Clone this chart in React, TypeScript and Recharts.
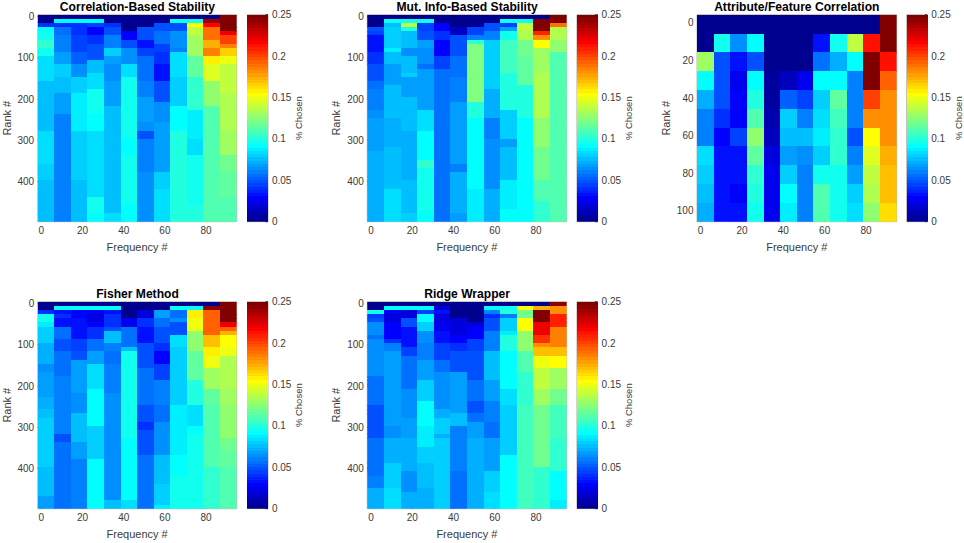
import React from 'react';
import { ScatterChart, Scatter, XAxis, YAxis, ReferenceArea } from 'recharts';

// Every column is a list of pairs: row where the run ends (exclusive), then % chosen x 1000.
const correlationColumns = [
  [2,0,3,40,4,90,6,97,8,105,10,95,16,85,28,75,36,84,40,80,50,75],
  [1,0,2,90,3,40,5,55,9,60,12,70,15,80,19,75,24,70,50,62],
  [1,0,2,90,5,40,9,45,12,52,15,65,19,80,28,88,40,80,46,75,50,78],
  [1,0,2,90,3,45,5,30,7,40,11,50,14,75,18,85,24,95,28,90,44,85,48,95,50,90],
  [2,0,3,40,5,50,8,60,10,80,12,70,16,65,22,70,48,75,50,85],
  [4,0,6,30,8,50,12,65,15,85,30,95,34,90,46,95,50,90],
  [3,0,6,50,8,35,10,45,16,55,20,60,26,70,28,65,30,50,38,60,50,65],
  [2,0,4,50,7,55,9,45,12,40,16,35,21,50,26,65,38,70,42,80,50,85],
  [1,0,2,95,4,50,8,65,9,60,15,85,22,80,28,93,50,100],
  [1,0,2,95,3,155,5,140,10,130,15,115,23,105,30,88,34,85,46,95,50,100],
  [1,0,2,240,3,215,6,190,8,175,10,185,12,160,16,145,22,125,50,110],
  [4,250,5,220,7,200,8,185,10,165,12,150,19,140,28,135,34,130,38,120,44,115,50,110],
];
const mutualInfoColumns = [
  [3,0,4,50,5,45,9,35,12,40,16,50,18,55,23,60,25,66,33,68,50,74],
  [1,0,2,95,3,75,8,82,9,88,12,75,17,70,25,76,32,72,42,78,50,84],
  [1,0,2,95,3,140,4,100,8,75,10,65,14,78,15,82,20,70,28,76,40,72,48,76,50,82],
  [1,0,2,95,4,45,6,50,8,70,12,65,13,55,23,70,28,85,35,92,37,105,48,96,50,92],
  [2,0,4,30,6,40,10,30,13,45,36,55,42,55,50,55],
  [3,0,5,15,10,50,15,55,21,60,36,68,38,60,48,72,50,68],
  [3,0,5,45,6,60,7,105,21,122,25,100,42,92,50,86],
  [2,0,4,50,6,60,16,82,18,82,25,72,30,62,42,66,50,72],
  [1,0,2,95,3,45,4,70,6,95,14,108,23,100,30,82,32,68,40,76,47,86,50,92],
  [1,0,2,95,4,140,6,135,10,120,17,115,25,100,50,93],
  [1,0,4,250,5,210,6,180,8,155,14,132,25,135,32,125,40,120,45,110,50,105],
  [2,250,3,190,6,135,9,125,16,110,50,110],
];
const attributeColumns = [
  [1,0,2,0,3,130,4,90,5,72,6,60,7,60,8,85,9,80,10,78,11,72],
  [1,0,2,95,3,50,4,50,5,50,6,42,7,30,8,35,9,35,10,35,11,35],
  [1,0,2,65,3,35,4,25,5,28,6,28,7,45,8,35,9,35,10,30,11,35],
  [1,0,2,90,3,50,4,90,5,98,6,110,7,125,8,115,9,105,10,98,11,95],
  [1,0,2,0,3,0,4,5,5,5,6,8,7,15,8,20,9,27,10,27,11,27],
  [1,0,2,0,3,0,4,15,5,52,6,80,7,75,8,70,9,80,10,92,11,88],
  [1,0,2,0,3,0,4,25,5,45,6,60,7,75,8,65,9,60,10,60,11,60],
  [1,0,2,35,3,55,4,90,5,80,6,85,7,88,8,80,9,95,10,110,11,112],
  [1,0,2,95,3,72,4,90,5,115,6,108,7,105,8,105,9,95,10,97,11,95],
  [1,0,2,140,3,92,4,60,5,60,6,60,7,50,8,60,9,70,10,80,11,85],
  [1,0,2,212,3,250,4,250,5,200,6,180,7,155,8,145,9,140,10,135,11,125],
  [1,250,2,250,3,212,4,192,5,180,6,180,7,180,8,172,9,168,10,168,11,162],
];
const fisherColumns = [
  [2,0,3,40,5,95,6,88,10,80,15,72,17,65,23,68,26,72,28,75,40,80,47,75,50,70],
  [1,0,2,90,3,35,4,40,6,35,9,55,12,50,18,55,25,60,32,60,34,50,50,58],
  [1,0,2,90,3,30,4,30,9,35,12,45,14,50,22,70,27,65,34,75,38,70,50,60],
  [1,0,2,90,3,30,5,20,6,30,9,40,12,55,15,70,21,85,30,92,38,80,50,90],
  [1,0,2,90,3,35,6,40,7,50,10,75,12,60,15,55,22,60,48,65,50,75],
  [4,0,6,25,11,55,12,75,25,95,33,95,48,90,50,85],
  [2,0,4,20,6,40,10,35,16,50,25,55,29,50,31,42,37,50,50,58],
  [2,0,4,70,6,55,10,50,12,40,15,30,19,45,25,60,29,55,37,65,44,75,49,80,50,88],
  [1,0,2,90,4,55,5,65,8,50,11,85,25,80,37,88,42,92,50,97],
  [1,0,2,90,4,160,7,150,12,125,19,115,25,100,30,85,32,90,50,95],
  [1,0,2,245,8,195,11,170,13,160,16,150,21,130,25,115,40,110,50,105],
  [5,250,6,220,7,195,8,175,11,155,13,150,21,135,25,130,33,125,36,120,40,115,50,110],
];
const ridgeColumns = [
  [2,0,3,95,4,45,5,50,8,65,9,55,18,65,25,55,33,50,37,55,42,58,45,62,50,72],
  [1,0,2,90,3,30,5,20,9,30,10,40,12,60,25,68,30,68,33,65,39,72,45,80,50,84],
  [1,0,2,90,4,20,6,50,11,35,13,45,21,55,28,63,33,68,41,72,46,63,50,72],
  [1,0,2,90,3,45,5,90,7,80,10,65,14,60,19,70,24,82,30,92,35,88,39,82,45,76,50,72],
  [1,0,2,20,3,35,5,20,7,25,10,35,14,45,17,55,26,65,28,72,32,82,33,72,50,80],
  [4,0,8,20,10,30,12,40,15,50,17,50,27,68,30,76,41,62,50,56],
  [5,0,6,20,9,30,12,45,19,50,24,55,27,50,29,55,33,68,50,72],
  [1,0,2,90,3,60,4,40,7,50,12,60,19,78,24,68,29,62,33,55,41,68,46,80,50,85],
  [1,0,2,95,3,100,4,60,7,80,8,88,12,98,21,92,25,83,37,82,50,92],
  [1,0,2,155,4,120,7,155,12,125,17,110,25,105,50,108],
  [1,0,2,175,5,250,8,220,10,205,11,180,13,170,16,150,21,140,25,130,40,120,50,105],
  [1,245,3,180,6,210,11,185,13,170,16,155,21,130,25,120,33,108,41,102,48,93,50,88],
];

const frequencyTicks = [0, 20, 40, 60, 80];
const rankTicks = [0, 100, 200, 300, 400];
const attributeRankTicks = [0, 20, 40, 60, 80, 100];
const chosenTicks = [0, 0.05, 0.1, 0.15, 0.2, 0.25];
const COLORMAP_LEVELS = 64;

const FONT = '"Liberation Sans", Arial, sans-serif';
const INK = '#3a3a3a';
const EDGE = '#b0a69e';

function clamp01(v: number) { return Math.max(0, Math.min(1, v)); }
function jet(value: number) {
  const level = Math.min(COLORMAP_LEVELS - 1, Math.floor((value / 0.25) * COLORMAP_LEVELS));
  const t = (level + 1) / COLORMAP_LEVELS;
  const ch = (c: number) => Math.round(255 * clamp01(1.5 - Math.abs(4 * t - c)));
  return `rgb(${ch(3)},${ch(2)},${ch(1)})`;
}

function cellsFrom(columns: number[][], rowCount: number, xDomain: number[], yDomain: number[]) {
  const colStep = (xDomain[1] - xDomain[0]) / columns.length;
  const rowStep = (yDomain[1] - yDomain[0]) / rowCount;
  const cells: { frequency: number; rank: number; chosen: number }[] = [];
  columns.forEach((runs, c) => {
    let row = 0;
    for (let i = 0; i < runs.length; i += 2) {
      for (; row < runs[i]; row++) {
        cells.push({
          frequency: xDomain[0] + colStep * (c + 0.5),
          rank: yDomain[0] + rowStep * (row + 0.5),
          chosen: runs[i + 1] / 1000,
        });
      }
    }
  });
  return cells;
}

function cellShape(w: number, h: number) {
  return (props: any) => {
    const v = props.payload.chosen;
    return (
      <rect x={props.cx - w / 2} y={props.cy - h / 2} width={w + 0.4} height={h + 0.4} fill={jet(v)} stroke="none" shapeRendering="crispEdges" />
    );
  };
}

const PLOT_W = 199.6;
const PLOT_H = 207;
const AXIS_W = 36;
const MARGIN_TOP = 8;
const X_AXIS_H = 33;

const tickStyle = { fontSize: 10, fill: INK, fontFamily: FONT };
const labelStyle = { fontSize: 11, fill: INK, fontFamily: FONT };

function Panel({ title, columns, rows, left, top, yDomain, yTicks }: any) {
  const xDomain = [-1.75, 94.8];
  const data = cellsFrom(columns, rows, xDomain, yDomain);
  const barData = Array.from({ length: COLORMAP_LEVELS }, (_, i) => ({
    frequency: 0.5,
    rank: ((i + 0.5) / COLORMAP_LEVELS) * 0.25,
    chosen: ((i + 0.5) / COLORMAP_LEVELS) * 0.25,
  }));
  const chartLeft = Math.floor(left - AXIS_W);
  const chartTop = Math.floor(top - MARGIN_TOP);
  const marginLeft = left - AXIS_W - chartLeft;
  const marginTop = top - chartTop;
  const barLeft = Math.floor(left + 209.6);
  const barMarginLeft = left + 209.6 - barLeft;
  const totalH = marginTop + PLOT_H + X_AXIS_H;
  return (
    <>
      <div style={{ position: 'absolute', left, top: top - 14.5, width: PLOT_W, textAlign: 'center', font: `bold 12.1px ${FONT}`, color: '#000', lineHeight: '15px', whiteSpace: 'nowrap' }}>{title}</div>
      <div style={{ position: 'absolute', left: chartLeft, top: chartTop }}>
        <ScatterChart width={AXIS_W + PLOT_W + 4} height={totalH} margin={{ left: marginLeft, top: marginTop, right: 4, bottom: 0 }}>
          <XAxis type="number" dataKey="frequency" domain={xDomain} ticks={frequencyTicks} allowDataOverflow height={X_AXIS_H}
            tick={tickStyle} tickSize={-2.5} tickMargin={8} axisLine={false} tickLine={{ stroke: '#333' }} interval={0}
            label={{ value: 'Frequency #', position: 'insideBottom', offset: 4, style: labelStyle }} />
          <YAxis type="number" dataKey="rank" domain={yDomain} reversed ticks={yTicks} allowDataOverflow width={AXIS_W}
            tick={tickStyle} tickSize={-2.5} tickMargin={6} axisLine={false} tickLine={{ stroke: '#333' }} interval={0}
            label={{ value: 'Rank #', angle: -90, position: 'insideLeft', offset: 5, style: { ...labelStyle, textAnchor: 'middle' } }} />
          <Scatter data={data} isAnimationActive={false} shape={cellShape(PLOT_W / columns.length, PLOT_H / rows)} />
          <ReferenceArea x1={xDomain[0]} x2={xDomain[1]} y1={yDomain[0]} y2={yDomain[1]} fill="none" stroke={EDGE} strokeWidth={0.8} />
        </ScatterChart>
      </div>
      <div style={{ position: 'absolute', left: barLeft, top: chartTop }}>
        <ScatterChart width={20.7 + 37 + barMarginLeft} height={marginTop + PLOT_H + 8} margin={{ left: barMarginLeft, top: marginTop, right: 0, bottom: 8 }}>
          <XAxis type="number" dataKey="frequency" domain={[0, 1]} hide />
          <YAxis type="number" dataKey="rank" orientation="right" domain={[0, 0.25]} ticks={chosenTicks} allowDataOverflow width={37}
            tick={tickStyle} tickSize={-2.5} tickMargin={6.5} axisLine={false} tickLine={{ stroke: '#333' }} interval={0}
            tickFormatter={(v: number) => String(v)}
            label={{ value: '% Chosen', angle: -90, position: 'insideRight', offset: 6, style: { fontSize: 9.5, fill: INK, fontFamily: FONT, textAnchor: 'middle' } }} />
          <Scatter data={barData} isAnimationActive={false} shape={cellShape(20.7, PLOT_H / COLORMAP_LEVELS)} />
          <ReferenceArea x1={0} x2={1} y1={0} y2={0.25} fill="none" stroke={EDGE} strokeWidth={0.8} />
        </ScatterChart>
      </div>
    </>
  );
}

export default function App() {
  const rankDomain = [-4.85, 497.1];
  return (
    <div style={{ position: 'absolute', left: 0, top: 0, width: 964, height: 543, background: '#fff', overflow: 'hidden' }}>
      <Panel title="Correlation-Based Stability" columns={correlationColumns} rows={50} left={37.7} top={14.7} yDomain={rankDomain} yTicks={rankTicks} />
      <Panel title="Mut. Info-Based Stability" columns={mutualInfoColumns} rows={50} left={367.3} top={14.7} yDomain={rankDomain} yTicks={rankTicks} />
      <Panel title="Attribute/Feature Correlation" columns={attributeColumns} rows={11} left={697} top={14.7} yDomain={[-4.3, 105.8]} yTicks={attributeRankTicks} />
      <Panel title="Fisher Method" columns={fisherColumns} rows={50} left={37.7} top={301.7} yDomain={rankDomain} yTicks={rankTicks} />
      <Panel title="Ridge Wrapper" columns={ridgeColumns} rows={50} left={367.3} top={301.7} yDomain={rankDomain} yTicks={rankTicks} />
    </div>
  );
}
